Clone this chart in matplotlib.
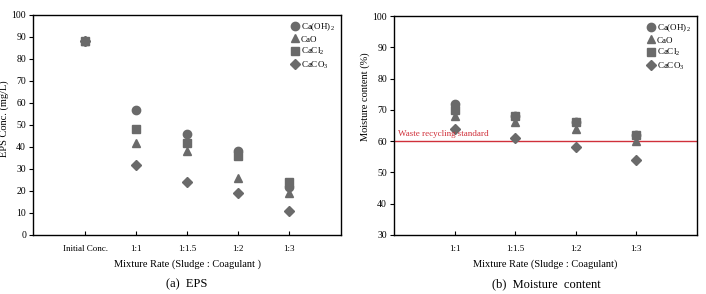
import matplotlib.pyplot as plt

plt.rcParams["font.family"] = ["Liberation Serif", "DejaVu Serif"]
plt.rcParams["mathtext.fontset"] = "custom"
plt.rcParams["mathtext.rm"] = "Liberation Serif"

# ===== DATA =====
eps_labels = ["Initial Conc.", "1:1", "1:1.5", "1:2", "1:3"]
eps_caoh2 = [88, 57, 46, 38, 22]
eps_cao = [88, 42, 38, 26, 19]
eps_cacl2 = [88, 48, 42, 36, 24]
eps_caco3 = [88, 32, 24, 19, 11]

mc_labels = ["1:1", "1:1.5", "1:2", "1:3"]
mc_caoh2 = [72, 68, 66, 62]
mc_cao = [68, 66, 64, 60]
mc_cacl2 = [70, 68, 66, 62]
mc_caco3 = [64, 61, 58, 54]
standard = 60

names = ["Ca(OH)$_2$", "CaO", "CaCl$_2$", "CaCO$_3$"]
markers = ["o", "^", "s", "D"]
sizes = [6, 6, 6, 5.5]
grey = "#6a6a6a"


def draw(ax, labels, series, xlim, ylim):
    x = list(range(len(labels)))
    for vals, m, name, s in zip(series, markers, names, sizes):
        ax.plot(x, vals, linestyle="none", marker=m, color=grey,
                markersize=s, label=name)
    ax.set_xlim(*xlim)
    ax.set_ylim(*ylim)
    ax.set_xticks(x)
    ax.set_xticklabels(labels)
    ax.tick_params(axis="x", direction="in", length=3, labelsize=6.5, pad=7)
    ax.tick_params(axis="y", direction="out", length=3, labelsize=7, pad=2)
    for sp in ax.spines.values():
        sp.set_linewidth(1.0)
    ax.legend(loc="upper right", frameon=False, fontsize=6.5,
              handletextpad=0.1, labelspacing=0.25, borderaxespad=0.3,
              handlelength=1.2)


fig = plt.figure(figsize=(7.06, 2.94), dpi=100)

ax1 = fig.add_axes([33 / 706, 59 / 294, 308 / 706, 220 / 294])
draw(ax1, eps_labels, [eps_caoh2, eps_cao, eps_cacl2, eps_caco3],
     (-1.02, 5.02), (0, 100))
ax1.set_yticks(range(0, 101, 10))
ax1.set_ylabel("EPS Conc. (mg/L)", fontsize=7.5)
ax1.yaxis.set_label_coords(-0.078, 0.53)
ax1.set_xlabel("Mixture Rate (Sludge : Coagulant )", fontsize=7.5, labelpad=5)

ax2 = fig.add_axes([394 / 706, 59 / 294, 303 / 706, 219 / 294])
draw(ax2, mc_labels, [mc_caoh2, mc_cao, mc_cacl2, mc_caco3],
     (-1, 4), (30, 100))
ax2.axhline(standard, color="#d0303a", linewidth=1.0, zorder=1)
ax2.text(-0.93, standard + 1.0, "Waste recycling standard", color="#d0303a",
         fontsize=6.5, va="bottom", ha="left")
ax2.set_yticks(range(30, 101, 10))
ax2.set_ylabel("Moisture content (%)", fontsize=7.5)
ax2.yaxis.set_label_coords(-0.078, 0.63)
ax2.set_xlabel("Mixture Rate (Sludge : Coagulant)", fontsize=7.5, labelpad=5)

fig.text(187 / 706, 1 - 284 / 294, "(a)  EPS", ha="center", va="center", fontsize=9)
fig.text(546 / 706, 1 - 284 / 294, "(b)  Moisture  content", ha="center",
         va="center", fontsize=9)

fig.savefig("out.png", dpi=100)
